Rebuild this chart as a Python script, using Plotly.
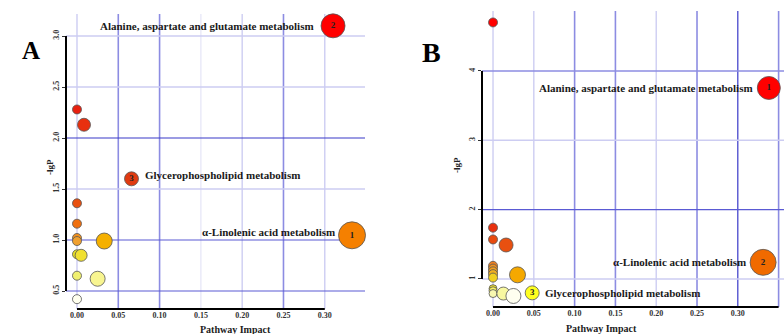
import plotly.graph_objects as go

# ---------------- data ----------------
# Panel A
a_impact = [0.310, 0.000, 0.0085, 0.066, 0.000, 0.000, 0.000, 0.000, 0.333, 0.033, 0.000, 0.005, 0.000, 0.025, 0.000]
a_lgp = [3.10, 2.28, 2.13, 1.60, 1.36, 1.16, 1.02, 0.99, 1.046, 0.99, 0.86, 0.85, 0.65, 0.62, 0.42]
a_rank = ["2", "", "", "3", "", "", "", "", "1", "", "", "", "", "", ""]
a_names = {"2": "Alanine, aspartate and glutamate metabolism",
           "3": "Glycerophospholipid metabolism",
           "1": "α-Linolenic acid metabolism"}
a_xticks = [0.00, 0.05, 0.10, 0.15, 0.20, 0.25, 0.30]
a_yticks = [0.5, 1.0, 1.5, 2.0, 2.5, 3.0]

# Panel B
b_impact = [0.000, 0.338, 0.000, 0.000, 0.016, 0.331, 0.000, 0.000, 0.000, 0.000, 0.000, 0.030, 0.000, 0.000, 0.000, 0.0127, 0.025, 0.048]
b_lgp = [4.70, 3.755, 1.74, 1.57, 1.49, 1.24, 1.19, 1.15, 1.11, 1.07, 1.02, 1.06, 0.86, 0.83, 0.79, 0.79, 0.755, 0.80]
b_rank = ["", "1", "", "", "", "2", "", "", "", "", "", "", "", "", "", "", "", "3"]
b_names = {"1": "Alanine, aspartate and glutamate metabolism",
           "2": "α-Linolenic acid metabolism",
           "3": "Glycerophospholipid metabolism"}
b_xticks = [0.00, 0.05, 0.10, 0.15, 0.20, 0.25, 0.30, 0.35]
b_yticks = [1, 2, 3, 4]

# ---------------- style ----------------
a_size = [24, 9, 13, 14, 9, 9, 9, 9, 27, 16, 9, 12, 9, 15, 9]
a_colors = ["#ff0000", "#e82010", "#e83010", "#e03a10", "#e85010", "#f07010", "#f09020", "#f0a030",
            "#f58000", "#f5b000", "#e8e020", "#f0e030", "#f0f070", "#f8f590", "#ffffee"]
b_size = [9, 23, 9, 9, 14, 26, 9, 9, 9, 9, 9, 16, 8, 8, 8, 13, 15, 14]
b_colors = ["#ff0000", "#ff0000", "#e83010", "#e84a10", "#e85010", "#f06a00", "#f08020", "#f09020",
            "#f0a020", "#f0b020", "#f0d020", "#f5a800", "#f0e030", "#f5f060", "#f8f8b0", "#f8f8a0",
            "#fffff0", "#ffff20"]
# label placement: (xanchor, xshift, yshift)
a_label_pos = {"2": ("right", -17, 0), "3": ("left", 11, 4), "1": ("right", -15, 3)}
b_label_pos = {"1": ("right", -14, 0), "2": ("right", -15, 0), "3": ("left", 11, 0)}

DARK = ("#3838c8", 1.2)
MDARK = ("#5a5ad4", 1.2)
MED = ("#8c8ce2", 1.6)
LIGHT = ("#cdcdf2", 1.4)
VLIGHT = ("#e8e8f8", 1.4)
a_vgrid = [LIGHT, MED, MED, VLIGHT, LIGHT, MED, LIGHT]
a_hgrid = [MDARK, MDARK, LIGHT, DARK, LIGHT, LIGHT]
b_vgrid = [LIGHT, LIGHT, MED, MED, LIGHT, MED, DARK, MED]
b_hgrid = [LIGHT, MDARK, LIGHT, MED]

SERIF = "Liberation Serif"
W, H = 784, 334

fig = go.Figure()
for xs, ys, rk, sz, cl, xa, ya in [
    (a_impact, a_lgp, a_rank, a_size, a_colors, "x", "y"),
    (b_impact, b_lgp, b_rank, b_size, b_colors, "x2", "y2"),
]:
    fig.add_trace(go.Scatter(
        x=xs, y=ys, mode="markers+text", text=rk, textposition="middle center",
        textfont=dict(family=SERIF, size=9, color="#222", weight="bold"),
        marker=dict(size=sz, color=cl, line=dict(color="#555", width=0.8), opacity=1),
        xaxis=xa, yaxis=ya, showlegend=False, hoverinfo="skip", cliponaxis=False))

shapes = []
annotations = []


def add_panel(xref, yref, xticks, yticks, vcols, hcols, xline_end, yline):
    for v, (c, w) in zip(xticks, vcols):
        shapes.append(dict(type="line", xref=xref, x0=v, x1=v, yref=yref + " domain", y0=0, y1=1,
                           line=dict(color=c, width=w), layer="below"))
    for v, (c, w) in zip(yticks, hcols):
        shapes.append(dict(type="line", xref=xref + " domain", x0=0, x1=1, yref=yref, y0=v, y1=v,
                           line=dict(color=c, width=w), layer="below"))
    shapes.append(dict(type="line", xref=xref, x0=xticks[0], x1=xline_end, yref=yref + " domain",
                       y0=0, y1=0, line=dict(color="black", width=2)))
    shapes.append(dict(type="line", xref=xref + " domain", x0=0, x1=0, yref=yref,
                       y0=yline[0], y1=yline[1], line=dict(color="black", width=2)))


add_panel("x", "y", a_xticks, a_yticks, a_vgrid, a_hgrid, a_xticks[-1], (a_yticks[0], a_yticks[-1]))
add_panel("x2", "y2", b_xticks, b_yticks, b_vgrid, b_hgrid, b_xticks[-1], (b_yticks[0], b_yticks[-1]))

for xs, ys, rk, names, pos, xa, ya in [
    (a_impact, a_lgp, a_rank, a_names, a_label_pos, "x", "y"),
    (b_impact, b_lgp, b_rank, b_names, b_label_pos, "x2", "y2"),
]:
    for xv, yv, r in zip(xs, ys, rk):
        if r:
            anc, dx, dy = pos[r]
            annotations.append(dict(x=xv, y=yv, xref=xa, yref=ya, text=names[r], showarrow=False,
                                    xanchor=anc, yanchor="middle", xshift=dx, yshift=dy,
                                    font=dict(family=SERIF, size=11, color="#1a1a1a", weight="bold")))

title_font = dict(family=SERIF, size=10, color="#222", weight="bold")
annotations += [
    dict(text="A", x=19.5 / W, y=1 - 35 / H, xref="paper", yref="paper", showarrow=False,
         font=dict(family=SERIF, size=25, color="black", weight="bold")),
    dict(text="B", x=432 / W, y=1 - 35 / H, xref="paper", yref="paper", showarrow=False,
         font=dict(family=SERIF, size=28, color="black", weight="bold")),
    dict(text="Pathway Impact", x=198 / W, y=1 - 329.5 / H, xref="paper", yref="paper", showarrow=False,
         yanchor="middle", font=title_font),
    dict(text="Pathway Impact", x=639 / W, y=1 - 328.5 / H, xref="paper", yref="paper", showarrow=False,
         yanchor="middle", font=title_font),
    dict(text="-lgP", x=43 / W, y=1 - 167 / H, xref="paper", yref="paper", showarrow=False,
         textangle=-90, font=dict(family=SERIF, size=9, color="#222", weight="bold")),
    dict(text="-lgP", x=457 / W, y=1 - 165 / H, xref="paper", yref="paper", showarrow=False,
         textangle=-90, font=dict(family=SERIF, size=9, color="#222", weight="bold")),
]

tickfont = dict(family=SERIF, size=8, color="#333", weight="bold")
common_x = dict(showgrid=False, zeroline=False, showline=False, ticks="",
                tickfont=tickfont, automargin=False, fixedrange=True)
common_y = dict(showgrid=False, zeroline=False, showline=False, ticks="outside", ticklen=3,
                tickcolor="#333", tickfont=tickfont, tickangle=-90, automargin=False, fixedrange=True)

fig.update_layout(
    width=W, height=H, margin=dict(l=0, r=0, t=0, b=0),
    paper_bgcolor="white", plot_bgcolor="white",
    shapes=shapes, annotations=annotations,
    xaxis=dict(domain=[66 / W, 365 / W], range=[-0.0133, 0.3487], anchor="y",
               tickvals=a_xticks, ticktext=[f"{v:.2f}" for v in a_xticks], **common_x),
    yaxis=dict(domain=[1 - 309 / H, 1 - 14 / H], range=[0.3235, 3.216], anchor="x",
               tickvals=a_yticks, ticktext=[f"{v:.1f}" for v in a_yticks], **common_y),
    xaxis2=dict(domain=[482 / W, 1.0], range=[-0.0135, 0.3566], anchor="y2",
                tickvals=b_xticks, ticktext=[f"{v:.2f}" for v in b_xticks], **common_x),
    yaxis2=dict(domain=[1 - 307 / H, 1 - 11 / H], range=[0.596, 4.865], anchor="x2",
                tickvals=b_yticks, ticktext=[str(v) for v in b_yticks], **common_y),
)

fig.write_html("out.html", config={"displayModeBar": False},
               post_script="document.body.style.margin='0';document.body.style.overflow='hidden';")
